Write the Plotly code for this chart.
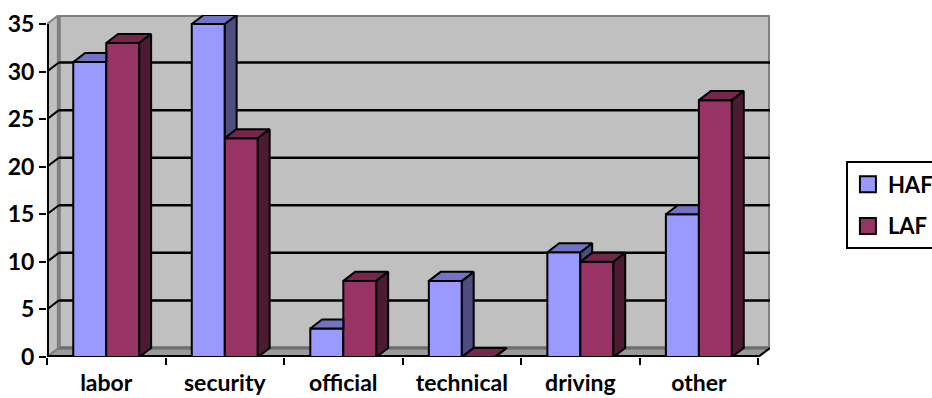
import plotly.graph_objects as go

# ---- data -------------------------------------------------------------
categories = ["labor", "security", "official", "technical", "driving", "other"]
haf = [31, 35, 3, 8, 11, 15]
laf = [33, 23, 8, 0, 10, 27]
y_ticks = [0, 5, 10, 15, 20, 25, 30, 35]
series_names = ["HAF", "LAF"]

# ---- style ------------------------------------------------------------
HAF_FRONT, HAF_TOP, HAF_SIDE = "#9999FF", "#7373C4", "#4D4D80"
LAF_FRONT, LAF_TOP, LAF_SIDE = "#993366", "#74264D", "#4D1A33"
WALL, FLOOR, EDGE = "#C0C0C0", "#9A9A9A", "#808080"
FAMILY = "Lato, Carlito, Arial"
TICK_FONT = dict(family=FAMILY, size=23, color="black", weight="bold")
CAT_FONT = dict(family=FAMILY, size=23, color="black", weight="bold")
LEG_FONT = dict(family=FAMILY, size=22, color="black", weight="bold")

DX, DY = 0.10, 0.95      # depth of the 3-D box, in axis units
BAR_W = 0.2785           # width of one bar, in category units
YMAX = y_ticks[-1]

n = len(categories)
xs = list(range(n))
x_lo, x_hi = -0.5, n - 0.5


def poly(pts):
    return [p[0] for p in pts] + [pts[0][0], None], [p[1] for p in pts] + [pts[0][1], None]


def path(pts):
    return "M " + " L ".join(f"{x},{y}" for x, y in pts) + " Z"


fig = go.Figure()

# front faces of the columns
fig.add_trace(go.Bar(x=xs, y=haf, name=series_names[0], width=BAR_W, offset=-BAR_W,
                     marker=dict(color=HAF_FRONT, line=dict(color="black", width=2)),
                     showlegend=False, hoverinfo="skip"))
fig.add_trace(go.Bar(x=xs, y=laf, name=series_names[1], width=BAR_W, offset=0,
                     marker=dict(color=LAF_FRONT, line=dict(color="black", width=2)),
                     showlegend=False, hoverinfo="skip"))

# top and side faces, hidden parts left out
faces = {k: ([], []) for k in ("haf_side", "haf_top", "laf_top", "laf_side")}


def add(key, pts):
    px, py = poly(pts)
    faces[key][0].extend(px)
    faces[key][1].extend(py)


for i in xs:
    h, l = haf[i], laf[i]
    x0, x1, x2 = i - BAR_W, i, i + BAR_W
    if h > l:
        add("haf_side", [(x1, l), (x1, h), (x1 + DX, h + DY), (x1 + DX, l + DY)])
    t = (l - h) / DY
    if t <= 0:
        add("haf_top", [(x0, h), (x1, h), (x1 + DX, h + DY), (x0 + DX, h + DY)])
    elif t >= 1:
        add("haf_top", [(x0, h), (x1, h), (x1, h + DY), (x0 + DX, h + DY)])
    else:
        add("haf_top", [(x0, h), (x1, h), (x1, l), (x1 + t * DX, l),
                        (x1 + DX, h + DY), (x0 + DX, h + DY)])
    add("laf_top", [(x1, l), (x2, l), (x2 + DX, l + DY), (x1 + DX, l + DY)])
    add("laf_side", [(x2, 0), (x2, l), (x2 + DX, l + DY), (x2 + DX, DY)])

for key, color in (("haf_side", HAF_SIDE), ("haf_top", HAF_TOP),
                   ("laf_top", LAF_TOP), ("laf_side", LAF_SIDE)):
    fig.add_trace(go.Scatter(x=faces[key][0], y=faces[key][1], mode="lines",
                             fill="toself", fillcolor=color,
                             line=dict(color="black", width=2),
                             showlegend=False, hoverinfo="skip"))

# legend keys (square swatches)
for name, color in zip(series_names, (HAF_FRONT, LAF_FRONT)):
    fig.add_trace(go.Scatter(x=[None], y=[None], mode="markers", name=name,
                             legendgroup=name,
                             marker=dict(symbol="square", size=16, color=color,
                                         line=dict(color="black", width=2))))

# ---- walls, floor and gridlines ----------------------------------------
shapes = []
shapes.append(dict(type="path", layer="below", xref="x", yref="y",
                   path=path([(x_lo, 0), (x_lo, YMAX), (x_lo + DX, YMAX + DY), (x_lo + DX, DY)]),
                   fillcolor=WALL, line=dict(color=EDGE, width=2)))
shapes.append(dict(type="path", layer="below", xref="x", yref="y",
                   path=path([(x_lo, 0), (x_hi, 0), (x_hi + DX, DY), (x_lo + DX, DY)]),
                   fillcolor=FLOOR, line=dict(color=EDGE, width=2)))
shapes.append(dict(type="rect", layer="below", xref="x", yref="y",
                   x0=x_lo + DX, x1=x_hi + DX, y0=DY, y1=YMAX + DY,
                   fillcolor=WALL, line=dict(color=EDGE, width=4)))
for v in y_ticks[1:-1]:
    shapes.append(dict(type="line", layer="below", xref="x", yref="y",
                       x0=x_lo + DX, x1=x_hi + DX, y0=v + DY, y1=v + DY,
                       line=dict(color="black", width=2.5)))
    shapes.append(dict(type="line", layer="below", xref="x", yref="y",
                       x0=x_lo, x1=x_lo + DX, y0=v, y1=v + DY,
                       line=dict(color="black", width=2)))
shapes.append(dict(type="line", layer="below", xref="x", yref="y",
                   x0=x_lo + DX, x1=x_hi + DX, y0=DY, y1=DY,
                   line=dict(color="#6E6E6E", width=2)))
# front value axis and category baseline
shapes.append(dict(type="line", layer="below", xref="x", yref="y",
                   x0=x_lo, x1=x_lo, y0=0, y1=YMAX, line=dict(color="black", width=4)))
shapes.append(dict(type="line", layer="below", xref="x", yref="y",
                   x0=x_lo, x1=x_hi, y0=0, y1=0, line=dict(color="black", width=4)))
shapes.append(dict(type="line", layer="below", xref="x", yref="y",
                   x0=x_hi, x1=x_hi + DX, y0=0, y1=DY, line=dict(color="black", width=2)))

fig.update_layout(
    width=932, height=398,
    margin=dict(l=47, r=162, t=15, b=41, autoexpand=False),
    paper_bgcolor="white", plot_bgcolor="white",
    barmode="overlay",
    shapes=shapes,
    showlegend=True,
    legend=dict(x=1.105, y=0.443, xanchor="left", yanchor="middle",
                bordercolor="black", borderwidth=2, bgcolor="white",
                font=LEG_FONT, tracegroupgap=10, traceorder="grouped"),
    xaxis=dict(range=[x_lo, x_hi + DX], tickvals=xs, ticktext=categories,
               ticks="", showgrid=False, zeroline=False, showline=False,
               tickfont=CAT_FONT, ticklabelstandoff=10,
               minor=dict(tick0=x_lo, dtick=1, ticks="outside", ticklen=7,
                          tickwidth=2, tickcolor="black", showgrid=False)),
    yaxis=dict(range=[0, YMAX + DY], tickvals=y_ticks, ticks="outside", ticklen=7,
               tickwidth=2, tickcolor="black", showgrid=False, zeroline=False,
               showline=False, tickfont=TICK_FONT),
)

fig.write_html("out.html")
